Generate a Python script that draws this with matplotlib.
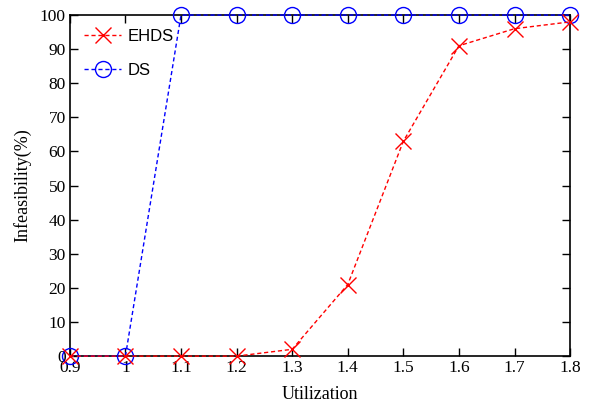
import matplotlib
matplotlib.use("Agg")
import matplotlib.pyplot as plt

utilization = [0.9, 1.0, 1.1, 1.2, 1.3, 1.4, 1.5, 1.6, 1.7, 1.8]
ehds = [0, 0, 0, 0, 2, 21, 63, 91, 96, 98]
ds = [0, 0, 100, 100, 100, 100, 100, 100, 100, 100]
xticks = [0.9, 1.0, 1.1, 1.2, 1.3, 1.4, 1.5, 1.6, 1.7, 1.8]
xticklabels = ["0.9", "1", "1.1", "1.2", "1.3", "1.4", "1.5", "1.6", "1.7", "1.8"]
yticks = [0, 10, 20, 30, 40, 50, 60, 70, 80, 90, 100]

plt.rcParams['font.family'] = ['Liberation Serif', 'DejaVu Serif']

fig = plt.figure(figsize=(5.92, 4.07), dpi=100)
ax = fig.add_axes([0.118, 0.125, 0.845, 0.838])

ax.plot(utilization, ehds, color='red', linestyle=(0, (3, 2)), linewidth=1.0,
        marker='x', markersize=11.5, markeredgewidth=1.0, label='EHDS',
        clip_on=False, zorder=4)
ax.plot(utilization, ds, color='blue', linestyle=(0, (3, 2)), linewidth=1.0,
        marker='o', markersize=11.5, markerfacecolor='none', markeredgewidth=1.0,
        label='DS', clip_on=False, zorder=3)

ax.set_xlim(0.9, 1.8)
ax.set_ylim(0, 100)
ax.set_xticks(xticks)
ax.set_xticklabels(xticklabels)
ax.set_yticks(yticks)
ax.tick_params(direction='in', top=True, right=True, length=6, width=1.0,
               labelsize=12.5, pad=3)
for s in ax.spines.values():
    s.set_linewidth(1.2)
ax.set_xlabel('Utilization', fontsize=13, labelpad=7)
ax.set_ylabel('Infeasibility(%)', fontsize=13, labelpad=6)

leg = ax.legend(loc='upper left', frameon=False, handlelength=2.2,
                prop={'family': 'Liberation Sans', 'size': 12},
                bbox_to_anchor=(0.012, 0.985), borderaxespad=0.0, borderpad=0.5,
                labelspacing=1.15, handletextpad=0.4)

fig.savefig('out.png', dpi=100)
